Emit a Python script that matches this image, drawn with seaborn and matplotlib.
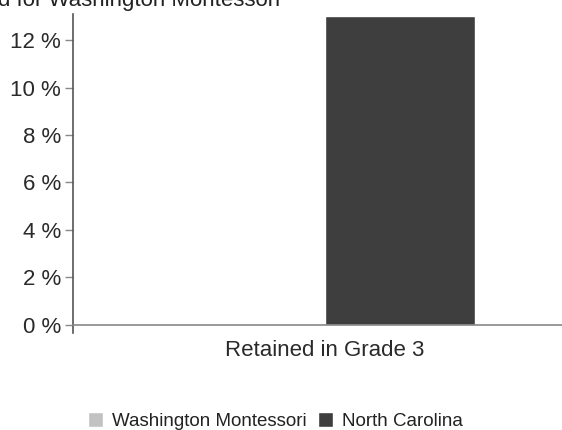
import matplotlib
matplotlib.use("Agg")
import matplotlib.pyplot as plt
import seaborn as sns
import pandas as pd

categories = ["Retained in Grade 3"]
schools = ["Washington Montessori", "North Carolina"]
values = [0.0, 13.0]
yticks = [0, 2, 4, 6, 8, 10, 12]

df = pd.DataFrame({
    "category": categories * len(schools),
    "school": schools,
    "value": values,
})

sns.set_style("white")
plt.rcParams["font.family"] = ["Liberation Sans", "DejaVu Sans"]

W, H = 562, 430
fig = plt.figure(figsize=(W / 100, H / 100), dpi=100)
ax = fig.add_axes([73 / W, (H - 333) / H, 1 - 73 / W, (333 - 14) / H])

palette = {"Washington Montessori": "#c2c2c2", "North Carolina": "#3e3e3e"}
sns.barplot(data=df, x="category", y="value", hue="school", hue_order=schools,
            palette=palette, width=0.8, ax=ax, saturation=1, legend=True)

ax.set_xlim(-0.672, 0.632)
ax.set_ylim(-0.35, 13.1)
ax.set_yticks(yticks)
ax.set_yticklabels([f"{t} %" for t in yticks], fontsize=16, color="#2a2a2a")
ax.set_xlabel("")
ax.set_ylabel("")
ax.tick_params(axis="y", direction="out", length=5.8, width=1, color="#888888", pad=3, left=True)
ax.tick_params(axis="x", length=0, pad=11, labelsize=16, labelcolor="#2a2a2a")

for s in ["top", "right"]:
    ax.spines[s].set_visible(False)
ax.spines["bottom"].set_position(("data", 0))
ax.spines["left"].set_color("#555555")
ax.spines["left"].set_linewidth(1.2)
ax.spines["bottom"].set_color("#888888")
ax.spines["bottom"].set_linewidth(1.2)

handles, labels = ax.get_legend_handles_labels()
ax.legend_.remove()
fig.legend(handles, labels, loc="center", bbox_to_anchor=(275.5 / W, 1 - 421 / H), ncol=2,
           frameon=False, fontsize=13.5, handlelength=0.8, handleheight=0.8,
           handletextpad=0.48, columnspacing=0.64, labelcolor="#222222",
           borderpad=0.1)

fig.text(280 / W, 1 - 6 / H, "Retained for Washington Montessori", ha="right", va="baseline",
         fontsize=16, color="#222222")

fig.savefig("out.png", dpi=100)
